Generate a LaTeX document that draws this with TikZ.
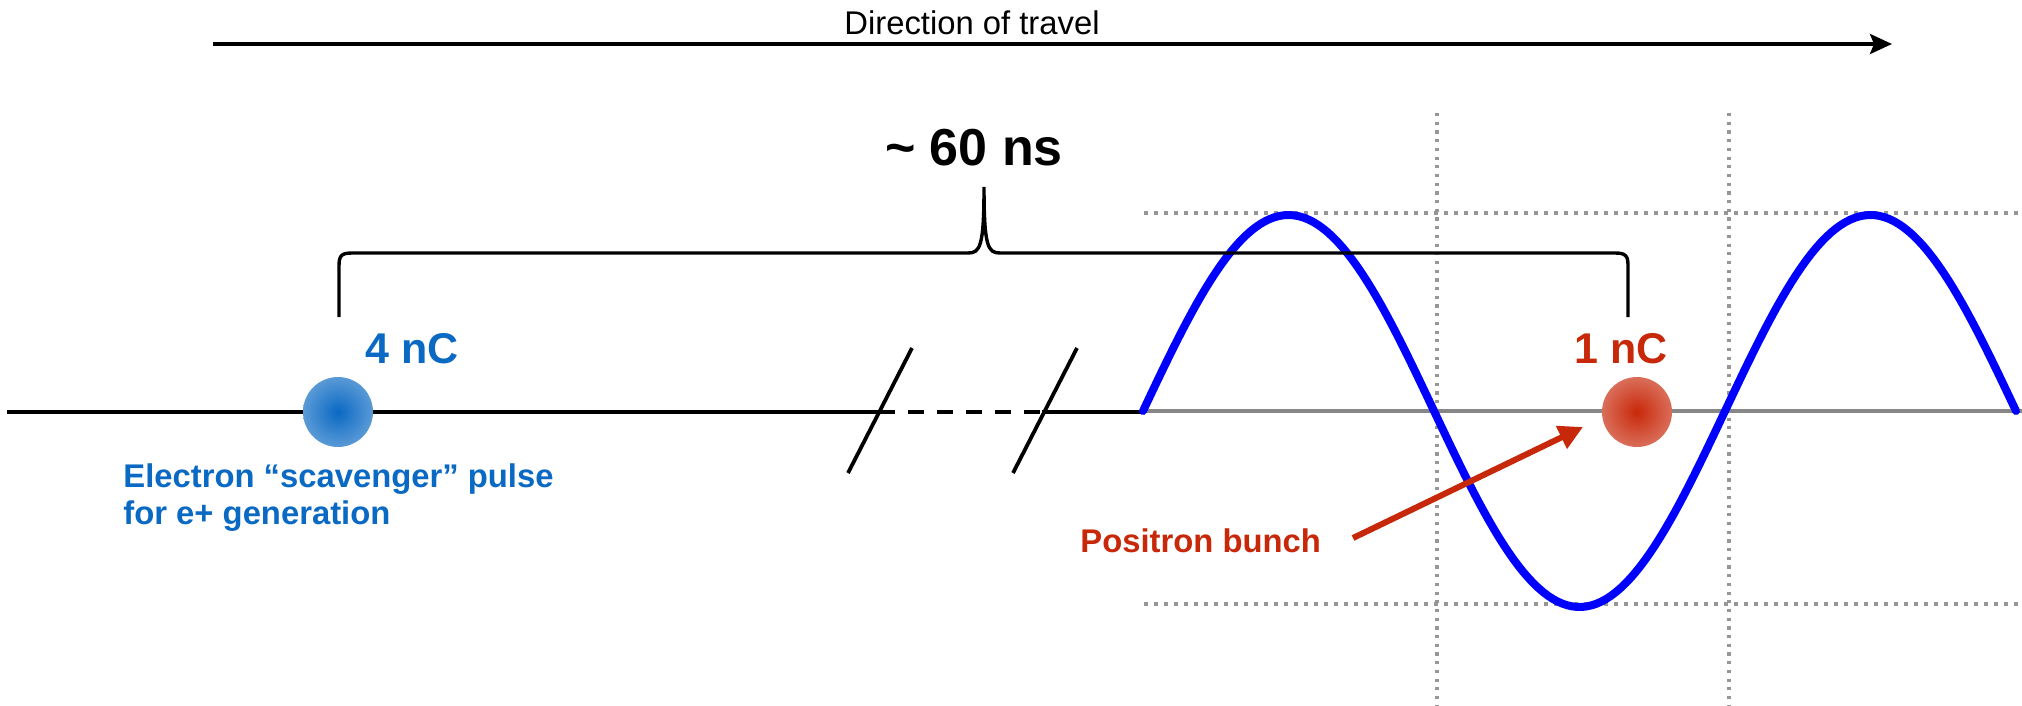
\documentclass[tikz,border=0pt]{standalone}
\usepackage{fontspec}
\setmainfont{Liberation Sans}
\usetikzlibrary{arrows.meta}
\definecolor{eblue}{RGB}{10,105,195}
\definecolor{pred}{RGB}{200,40,10}
\definecolor{gridgray}{RGB}{150,150,150}
\definecolor{axisgray}{RGB}{135,135,135}
\definecolor{sineblue}{RGB}{0,0,255}
\pgfdeclareradialshading{eballshade}{\pgfpoint{0bp}{0bp}}{color(0bp)=(eblue); color(50bp)=(eblue!35); color(51bp)=(eblue!35)}
\pgfdeclareradialshading{pballshade}{\pgfpoint{0bp}{0bp}}{color(0bp)=(pred); color(50bp)=(pred!35); color(51bp)=(pred!35)}
\begin{document}
\begin{tikzpicture}[x=0.5pt,y=-0.5pt,
  lbl/.style={inner sep=0pt, anchor=base},
  beamline/.style={line width=2pt, black},
  bracestyle/.style={line width=1.7pt, black},
  slash/.style={line width=1.9pt, black},
  gridline/.style={line width=1.8pt, gridgray, dash pattern=on 2pt off 3pt},
  vgridline/.style={line width=1.8pt, gridgray, dash pattern=on 1.6pt off 2.75pt},
  axis/.style={line width=2pt, axisgray},
  wave/.style={line width=4pt, sineblue, line cap=round, line join=round},
  ball/.style={circle, minimum size=35pt, inner sep=0pt},
  redarrow/.style={line width=3pt, pred, -{Triangle[length=12pt,width=12pt]}},
  travel/.style={line width=1.7pt, black, -{Stealth[length=11pt,width=10pt,inset=2pt]}}
]
\useasboundingbox (0,0) rectangle (2022,706);

% direction of travel
\node[lbl] (dirlabel) at (972,35) {\fontsize{16.4}{19}\selectfont Direction of travel};
\coordinate (dirA) at (213,44);
\coordinate (dirB) at (1892,44);
\draw[travel] (dirA) -- (dirB);

% grid (dotted)
\draw[vgridline] (1437,113) -- (1437,706);
\draw[vgridline] (1729,113) -- (1729,706);
\draw[gridline] (1144,213) -- (2022,213);
\draw[gridline] (1144,604) -- (2022,604);

% axis
\draw[axis] (1143,411) -- (2022,411);

% beam line
\coordinate (lineL) at (7,412);
\coordinate (cut1) at (879,412);
\coordinate (cut2) at (1042,412);
\coordinate (waveStart) at (1143,412);
\draw[beamline] (lineL) -- (cut1);
\draw[beamline, dash pattern=on 8pt off 6.5pt] (cut1) -- (cut2);
\draw[beamline] (cut2) -- (waveStart);
\draw[slash] (848,473) -- (912,348);
\draw[slash] (1013,473) -- (1077,348);

% sine wave (\x in degrees of phase)
\draw[wave] plot[domain=0:540, samples=180] ({1143+\x*1.6167},{411-196*sin(\x)});

% brace
\draw[bracestyle] (339,317) -- (339,266) .. controls (339,256) and (341,253) .. (352,253) -- (968,253) .. controls (980,253) and (984,247) .. (984,187) .. controls (984,247) and (988,253) .. (1000,253) -- (1615,253) .. controls (1626,253) and (1628,256) .. (1628,266) -- (1628,317);
\node[lbl] (time) at (974,165) {\fontsize{26}{31}\selectfont\bfseries \char"007E\ 60 ns};

% electron bunch
\node[ball, shading=eballshade] (eball) at (338,412) {};
\node[lbl, text=eblue] (q4) at (412,363) {\fontsize{21.5}{26}\selectfont\bfseries 4 nC};
\node[lbl, anchor=base west, text=eblue] (elec1) at (123,487) {\fontsize{16.4}{19}\selectfont\bfseries Electron “scavenger” pulse};
\node[lbl, anchor=base west, text=eblue] (elec2) at (123,524) {\fontsize{16.4}{19}\selectfont\bfseries for e+ generation};

% positron bunch
\node[ball, shading=pballshade] (pball) at (1637,412) {};
\node[lbl, text=pred] (q1) at (1621,363) {\fontsize{21.5}{26}\selectfont\bfseries 1 nC};
\node[lbl, anchor=base west, text=pred] (posl) at (1080,552) {\fontsize{16.4}{19}\selectfont\bfseries Positron bunch};
\coordinate (arrStart) at (1353,538);
\coordinate (arrTip) at (1583,427);
\draw[redarrow] (arrStart) -- (arrTip);
\end{tikzpicture}
\end{document}
